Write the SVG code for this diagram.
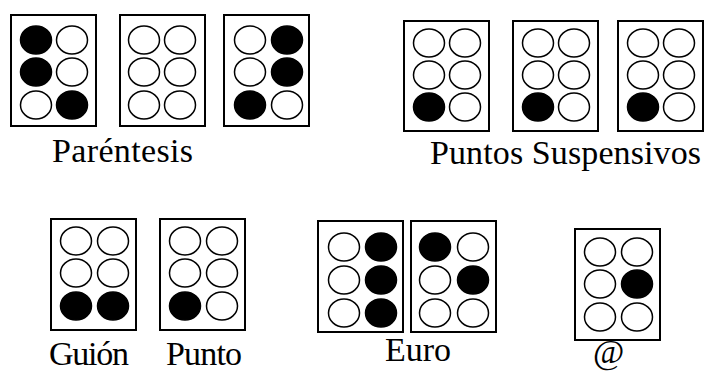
<svg xmlns="http://www.w3.org/2000/svg" width="706" height="372" viewBox="0 0 706 372">
<style>
.box{fill:#fff;stroke:#000;stroke-width:2}
.o{fill:#fff;stroke:#000;stroke-width:1.5}
.f{fill:#000;stroke:#000;stroke-width:1.5}
.t{font-family:"Liberation Serif","Times New Roman",serif;font-size:34px;fill:#000}
</style>
<rect width="706" height="372" fill="#fff"/>
<g id="parentesis">
  <g id="par1">
    <rect class="box" x="11" y="15" width="85" height="111"/>
    <ellipse class="f" cx="36" cy="40" rx="15.5" ry="14"/><ellipse class="o" cx="72" cy="40" rx="15.5" ry="14"/>
    <ellipse class="f" cx="36" cy="72" rx="15.5" ry="14"/><ellipse class="o" cx="72" cy="72" rx="15.5" ry="14"/>
    <ellipse class="o" cx="36" cy="105" rx="15.5" ry="14"/><ellipse class="f" cx="72" cy="105" rx="15.5" ry="14"/>
  </g>
  <g id="par2">
    <rect class="box" x="120" y="15" width="85" height="111"/>
    <ellipse class="o" cx="144" cy="40" rx="15.5" ry="14"/><ellipse class="o" cx="180" cy="40" rx="15.5" ry="14"/>
    <ellipse class="o" cx="144" cy="72" rx="15.5" ry="14"/><ellipse class="o" cx="180" cy="72" rx="15.5" ry="14"/>
    <ellipse class="o" cx="144" cy="105" rx="15.5" ry="14"/><ellipse class="o" cx="180" cy="105" rx="15.5" ry="14"/>
  </g>
  <g id="par3">
    <rect class="box" x="224" y="15" width="85" height="111"/>
    <ellipse class="o" cx="250" cy="40" rx="15.5" ry="14"/><ellipse class="f" cx="287" cy="40" rx="15.5" ry="14"/>
    <ellipse class="o" cx="250" cy="72" rx="15.5" ry="14"/><ellipse class="f" cx="287" cy="72" rx="15.5" ry="14"/>
    <ellipse class="f" cx="250" cy="105" rx="15.5" ry="14"/><ellipse class="o" cx="287" cy="105" rx="15.5" ry="14"/>
  </g>
  <text class="t" x="52" y="162" textLength="141">Paréntesis</text>
</g>
<g id="puntos-suspensivos">
  <g id="ps1">
    <rect class="box" x="404" y="21" width="85" height="110"/>
    <ellipse class="o" cx="429" cy="43" rx="15.5" ry="14"/><ellipse class="o" cx="465" cy="43" rx="15.5" ry="14"/>
    <ellipse class="o" cx="429" cy="75" rx="15.5" ry="14"/><ellipse class="o" cx="465" cy="75" rx="15.5" ry="14"/>
    <ellipse class="f" cx="429" cy="107" rx="15.5" ry="14"/><ellipse class="o" cx="465" cy="107" rx="15.5" ry="14"/>
  </g>
  <g id="ps2">
    <rect class="box" x="513" y="21" width="85" height="110"/>
    <ellipse class="o" cx="538" cy="43" rx="15.5" ry="14"/><ellipse class="o" cx="574" cy="43" rx="15.5" ry="14"/>
    <ellipse class="o" cx="538" cy="75" rx="15.5" ry="14"/><ellipse class="o" cx="574" cy="75" rx="15.5" ry="14"/>
    <ellipse class="f" cx="538" cy="107" rx="15.5" ry="14"/><ellipse class="o" cx="574" cy="107" rx="15.5" ry="14"/>
  </g>
  <g id="ps3">
    <rect class="box" x="618" y="21" width="85" height="110"/>
    <ellipse class="o" cx="643" cy="43" rx="15.5" ry="14"/><ellipse class="o" cx="679" cy="43" rx="15.5" ry="14"/>
    <ellipse class="o" cx="643" cy="75" rx="15.5" ry="14"/><ellipse class="o" cx="679" cy="75" rx="15.5" ry="14"/>
    <ellipse class="f" cx="643" cy="107" rx="15.5" ry="14"/><ellipse class="o" cx="679" cy="107" rx="15.5" ry="14"/>
  </g>
  <text class="t" x="430" y="164" textLength="271">Puntos Suspensivos</text>
</g>
<g id="guion">
  <rect class="box" x="51" y="219" width="85" height="111"/>
  <ellipse class="o" cx="76" cy="241" rx="15.5" ry="14"/><ellipse class="o" cx="113" cy="241" rx="15.5" ry="14"/>
  <ellipse class="o" cx="76" cy="273" rx="15.5" ry="14"/><ellipse class="o" cx="113" cy="273" rx="15.5" ry="14"/>
  <ellipse class="f" cx="76" cy="306" rx="15.5" ry="14"/><ellipse class="f" cx="113" cy="306" rx="15.5" ry="14"/>
  <text class="t" x="49" y="365" textLength="80">Guión</text>
</g>
<g id="punto">
  <rect class="box" x="160" y="219" width="85" height="111"/>
  <ellipse class="o" cx="185" cy="241" rx="15.5" ry="14"/><ellipse class="o" cx="222" cy="241" rx="15.5" ry="14"/>
  <ellipse class="o" cx="185" cy="273" rx="15.5" ry="14"/><ellipse class="o" cx="222" cy="273" rx="15.5" ry="14"/>
  <ellipse class="f" cx="185" cy="306" rx="15.5" ry="14"/><ellipse class="o" cx="222" cy="306" rx="15.5" ry="14"/>
  <text class="t" x="166" y="365" textLength="76">Punto</text>
</g>
<g id="euro">
  <g id="euro1">
    <rect class="box" x="318" y="221" width="85" height="111"/>
    <ellipse class="o" cx="344" cy="247" rx="15.5" ry="14"/><ellipse class="f" cx="381" cy="247" rx="15.5" ry="14"/>
    <ellipse class="o" cx="344" cy="280" rx="15.5" ry="14"/><ellipse class="f" cx="381" cy="280" rx="15.5" ry="14"/>
    <ellipse class="o" cx="344" cy="313" rx="15.5" ry="14"/><ellipse class="f" cx="381" cy="313" rx="15.5" ry="14"/>
  </g>
  <g id="euro2">
    <rect class="box" x="411" y="221" width="85" height="111"/>
    <ellipse class="f" cx="435" cy="247" rx="15.5" ry="14"/><ellipse class="o" cx="473" cy="247" rx="15.5" ry="14"/>
    <ellipse class="o" cx="435" cy="280" rx="15.5" ry="14"/><ellipse class="f" cx="473" cy="280" rx="15.5" ry="14"/>
    <ellipse class="o" cx="435" cy="313" rx="15.5" ry="14"/><ellipse class="o" cx="473" cy="313" rx="15.5" ry="14"/>
  </g>
  <text class="t" x="385" y="361" textLength="66">Euro</text>
</g>
<g id="arroba">
  <rect class="box" x="575" y="229" width="85" height="111"/>
  <ellipse class="o" cx="600" cy="252" rx="15.5" ry="14"/><ellipse class="o" cx="637" cy="252" rx="15.5" ry="14"/>
  <ellipse class="o" cx="600" cy="284" rx="15.5" ry="14"/><ellipse class="f" cx="637" cy="284" rx="15.5" ry="14"/>
  <ellipse class="o" cx="600" cy="317" rx="15.5" ry="14"/><ellipse class="o" cx="637" cy="317" rx="15.5" ry="14"/>
  <text class="t" x="593" y="363" textLength="32">@</text>
</g>
</svg>
